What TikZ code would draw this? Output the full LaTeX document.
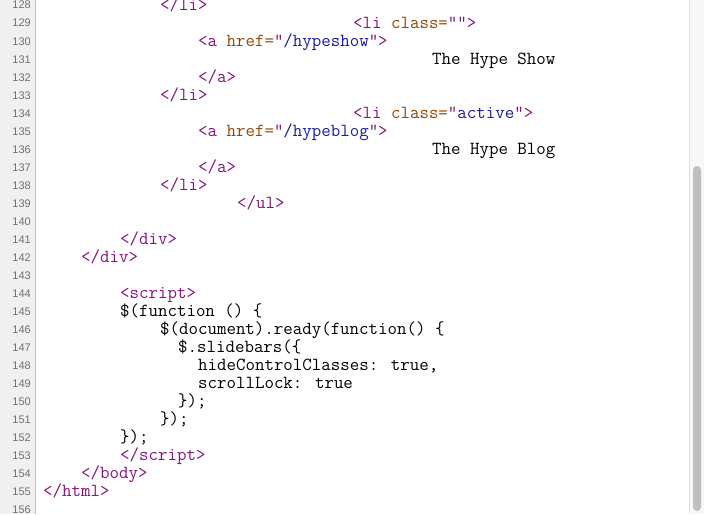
\documentclass[tikz,border=0pt]{standalone}
\usepackage{fontspec}
\setsansfont{Liberation Sans}
\definecolor{tagc}{HTML}{881280}
\definecolor{attc}{HTML}{994500}
\definecolor{valc}{HTML}{1A1AA6}
\definecolor{numc}{HTML}{707070}
\newcommand{\Tg}[1]{\textcolor{tagc}{#1}}
\newcommand{\At}[1]{\textcolor{attc}{#1}}
\newcommand{\Vl}[1]{\textcolor{valc}{#1}}
\begin{document}
\begin{tikzpicture}[x=1pt,y=-1pt,
  code/.style={anchor=base west,inner sep=0pt,font=\ttfamily\fontsize{18.4}{18}\selectfont},
  num/.style={anchor=base east,inner sep=0pt,text=numc,font=\sffamily\fontsize{11}{11}\selectfont}]
\useasboundingbox (0,0) rectangle (704,514);
\fill[white] (0,0) rectangle (704,514);
\fill[black!6] (0,0) rectangle (35,514);
\draw[black!25] (35.5,0) -- (35.5,514);
\fill[black!3] (689,0) rectangle (704,514);
\draw[black!12] (689.5,0) -- (689.5,514);
\fill[black!25,rounded corners=4pt] (693,166) rectangle (701,511);
\foreach \n in {128,...,156}{
  \node[num] (n\n) at (31,{5+(\n-128)*18+4}) {\n};
}
\newcommand{\Ln}[3]{\node[code] (l#1) at (#2,{5+(#1-128)*18+5}) {#3};}
\Ln{128}{160}{\Tg{</li>}}
\Ln{129}{353}{\Tg{<li }\At{class=}\Tg{""}\Tg{>}}
\Ln{130}{198}{\Tg{<a }\At{href=}\Tg{"}\Vl{/hypeshow}\Tg{">}}
\Ln{131}{432}{The Hype Show}
\Ln{132}{198}{\Tg{</a>}}
\Ln{133}{160}{\Tg{</li>}}
\Ln{134}{353}{\Tg{<li }\At{class=}\Tg{"}\Vl{active}\Tg{">}}
\Ln{135}{198}{\Tg{<a }\At{href=}\Tg{"}\Vl{/hypeblog}\Tg{">}}
\Ln{136}{432}{The Hype Blog}
\Ln{137}{198}{\Tg{</a>}}
\Ln{138}{160}{\Tg{</li>}}
\Ln{139}{237}{\Tg{</ul>}}
\Ln{141}{120}{\Tg{</div>}}
\Ln{142}{81}{\Tg{</div>}}
\Ln{144}{120}{\Tg{<script>}}
\Ln{145}{120}{\$(function () \{}
\Ln{146}{160}{\$(document).ready(function() \{}
\Ln{147}{178}{\$.slidebars(\{}
\Ln{148}{198}{hideControlClasses: true,}
\Ln{149}{198}{scrollLock: true}
\Ln{150}{178}{\});}
\Ln{151}{160}{\});}
\Ln{152}{120}{\});}
\Ln{153}{120}{\Tg{</script>}}
\Ln{154}{81}{\Tg{</body>}}
\Ln{155}{43}{\Tg{</html>}}
\end{tikzpicture}
\end{document}
